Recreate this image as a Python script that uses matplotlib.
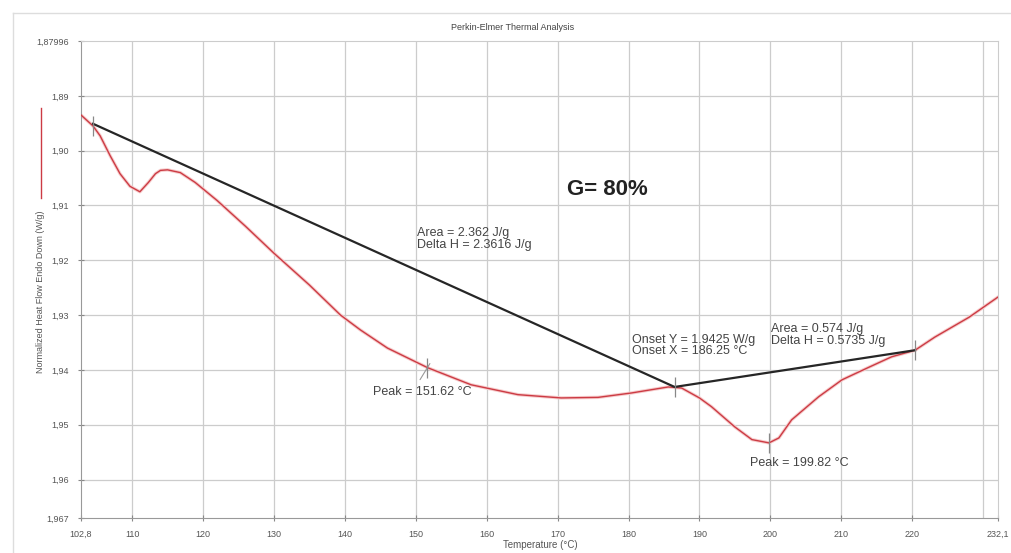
import numpy as np
from matplotlib import pyplot as plt
from matplotlib.lines import Line2D

plt.rcParams['font.family'] = ['Liberation Sans', 'DejaVu Sans']

# DSC curve (temperature in C, heat flow in W/g)
temp = [102.8, 104.5, 105.5, 106.9, 108.3, 109.7, 111.1, 112.3, 113.3, 114.0,
        115.0, 116.8, 118.9, 122.0, 126.0, 130.0, 135.0, 139.4, 142.2, 146.0,
        151.7, 157.8, 164.4, 170.5, 175.7, 180.4, 185.6, 187.5, 190.0, 191.7,
        195.0, 197.4, 199.8, 201.2, 203.0, 206.8, 210.1, 213.9, 217.1, 220.4,
        223.2, 228.0, 232.1]
heat = [1.8935, 1.8955, 1.8973, 1.9009, 1.9042, 1.9065, 1.9075, 1.9058, 1.9042, 1.9036,
        1.9035, 1.9040, 1.9058, 1.9091, 1.9138, 1.9187, 1.9245, 1.9300, 1.9327, 1.9360,
        1.9396, 1.9427, 1.9445, 1.9451, 1.9450, 1.9442, 1.9431, 1.9433, 1.9451, 1.9467,
        1.9504, 1.9527, 1.9533, 1.9524, 1.9491, 1.9449, 1.9418, 1.9395, 1.9376, 1.9364,
        1.9340, 1.9304, 1.9267]

# baselines / tangents
base_x = [104.5, 186.5, 220.4]
base_y = [1.8951, 1.9431, 1.9364]

# small vertical markers on the curve
mark_x = [104.5, 151.62, 186.5, 199.82, 220.4]
mark_y = [1.8955, 1.9396, 1.9431, 1.9533, 1.9364]

xticks = [102.8, 110, 120, 130, 140, 150, 160, 170, 180, 190, 200, 210, 220, 232.1]
xlabels = ['102,8', '110', '120', '130', '140', '150', '160', '170', '180', '190',
           '200', '210', '220', '232,1']
yticks = [1.8800, 1.89, 1.90, 1.91, 1.92, 1.93, 1.94, 1.95, 1.96, 1.967]
ylabels = ['1,87996', '1,89', '1,90', '1,91', '1,92', '1,93', '1,94', '1,95', '1,96', '1,967']
xgrid = [110, 120, 130, 140, 150, 160, 170, 180, 190, 200, 210, 220, 230]

fig = plt.figure(figsize=(10.11, 5.53), dpi=100)
ax = fig.add_axes([81/1011, 1 - 518/553, 917/1011, 477/553])

ax.set_xlim(102.8, 232.1)
ax.set_ylim(1.967, 1.8800)

for g in xgrid:
    ax.axvline(g, color='#cccccc', lw=0.9, zorder=0)
for g in yticks[1:-1]:
    ax.axhline(g, color='#cccccc', lw=0.9, zorder=0)

ax.plot(temp, heat, color='#f6cccc', lw=2.4, solid_capstyle='round', zorder=2)
ax.plot(temp, heat, color='#cc3b44', lw=1.0, zorder=3)
ax.plot(base_x, base_y, color='#262626', lw=1.6, zorder=4)
ax.plot(mark_x, mark_y, ls='none', marker='|', markersize=14, mew=0.9,
        color='#888888', zorder=5)

ax.set_xticks(xticks)
ax.set_xticklabels(xlabels)
ax.set_yticks(yticks)
ax.set_yticklabels(ylabels)
ax.tick_params(axis='both', labelsize=6.5, labelcolor='#555555', color='#888888',
               direction='inout', length=5, width=0.8, pad=6)

for s in ['top', 'right']:
    ax.spines[s].set_color('#cccccc')
for s in ['left', 'bottom']:
    ax.spines[s].set_color('#999999')

txt = dict(fontsize=9, color='#444444', va='center', ha='left')
ax.text(150.2, 1.9150, 'Area = 2.362 J/g', **txt)
ax.text(150.2, 1.9172, 'Delta H = 2.3616 J/g', **txt)
ax.text(180.5, 1.9345, 'Onset Y = 1.9425 W/g', **txt)
ax.text(180.5, 1.9365, 'Onset X = 186.25 \u00b0C', **txt)
ax.text(200.1, 1.9325, 'Area = 0.574 J/g', **txt)
ax.text(200.1, 1.9347, 'Delta H = 0.5735 J/g', **txt)
ax.text(144.0, 1.9440, 'Peak = 151.62 \u00b0C', **txt)
ax.text(197.1, 1.9570, 'Peak = 199.82 \u00b0C', **txt)
ax.annotate('', xy=(152.2, 1.9384), xytext=(150.4, 1.9422),
            arrowprops=dict(arrowstyle='-', color='#999999', lw=0.8))

ax.text(177.0, 1.9070, 'G= 80%', fontsize=16, fontweight='bold', color='#222222',
        va='center', ha='center')

fig.text(540/1011, 1 - 545/553, 'Temperature (\u00b0C)', fontsize=7,
         color='#555555', ha='center', va='center')
fig.text(513/1011, 1 - 28/553, 'Perkin-Elmer Thermal Analysis', fontsize=6.5,
         color='#444444', ha='center', va='center')
fig.text(41/1011, 1 - 292/553, 'Normalized Heat Flow Endo Down (W/g)', fontsize=6.5,
         color='#555555', rotation=90, ha='center', va='center')
fig.add_artist(Line2D([41/1011, 41/1011], [1 - 198/553, 1 - 108/553],
                      color='#cc3b44', lw=1.0))

# outer frame of the original export
fig.add_artist(Line2D([13/1011, 1.0], [1 - 13/553, 1 - 13/553], color='#dddddd', lw=1.0))
fig.add_artist(Line2D([13/1011, 13/1011], [0.0, 1 - 13/553], color='#dddddd', lw=1.0))

fig.savefig('out.png', dpi=100)
